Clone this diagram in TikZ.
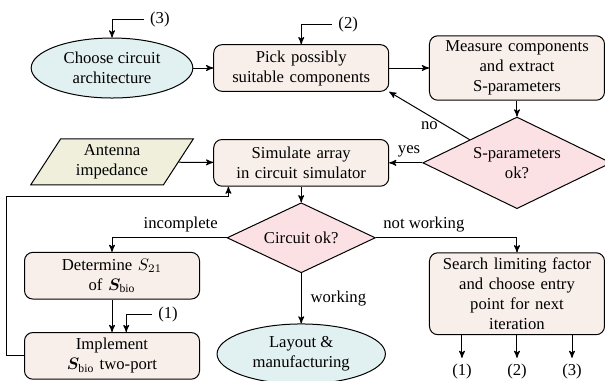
\documentclass[tikz,border=0pt]{standalone}
\usepackage{fontspec}
\setmainfont{Liberation Serif}
\usepackage{amsmath,bm}
\usepackage{xcolor}
\usetikzlibrary{positioning,shapes,calc,arrows}

\definecolor{termcol}{HTML}{E1F0F0}
\definecolor{boxcol}{HTML}{F8EFEA}
\definecolor{deccol}{HTML}{FCE1E4}
\definecolor{iocol}{HTML}{EFEFDC}

\begin{document}
\begin{tikzpicture}[->,>=stealth',auto,semithick,
            box/.style={rectangle,rounded corners=5pt,draw,fill=boxcol,text width=99pt,align=center,minimum height=28pt,inner sep=3pt},
            term/.style={ellipse,draw,fill=termcol,minimum width=97pt,minimum height=36pt,inner sep=0pt,align=center},
            decision/.style={diamond,draw,fill=deccol,aspect=2,inner sep=0pt,align=center},
            io/.style={trapezium,trapezium left angle=62,trapezium right angle=118,trapezium stretches=true,draw,fill=iocol,minimum width=98pt,minimum height=27.6pt,align=center}]

            \useasboundingbox (-2.362,1.434) rectangle (10.396,-6.600);

            \node[term] (choose) {Choose circuit\\architecture};
            \node[box] (pick) [right of=choose, node distance=3.99cm] {Pick possibly\\suitable components};
            \node[box] (measure) [right of=pick, node distance=4.55cm] {Measure components\\and extract\\S-parameters};
            \node[decision, minimum width=113pt, minimum height=55pt] (sok) [below of=measure, node distance=2cm] {S-parameters\\ok?};
            \node[box] (simulate) [below of=pick, node distance=2cm] {Simulate array\\in circuit simulator};
            \node[io] (antenna) [below of=choose, node distance=1.98cm] {Antenna\\impedance};
            \node[decision, minimum width=89pt, minimum height=42pt] (cok) [below of=simulate, node distance=1.58cm] {Circuit ok?};
            \node[box] (determine) [below of=antenna, node distance=2.4cm] {Determine $S_{21}$\\of $\bm{S}_{\mathrm{bio}}$};
            \node[box] (implement) [below of=determine, node distance=1.69cm] {Implement\\$\bm{S}_{\mathrm{bio}}$ two-port};
            \node[term, minimum width=101pt] (layout) [below of=cok, node distance=2.45cm] {Layout \&\\manufacturing};
            \node[box] (search) [below of=sok, node distance=2.76cm] {Search limiting factor\\and choose entry\\point for next\\iteration};

            % entry points
            \node (e3) at ([xshift=1.01cm,yshift=0.38cm]choose.north) {(3)};
            \node (e2) at ([xshift=0.99cm,yshift=0.42cm]pick.north) {(2)};
            \node (e1) at ([xshift=1.18cm,yshift=0.38cm]implement.north) {(1)};
            \tikzset{node distance=1.16cm}
            \node (o2) [below of=search, node distance=1.64cm] {(2)};
            \node (o1) [left of=o2] {(1)};
            \node (o3) [right of=o2] {(3)};

            \path (choose) edge (pick)
            (pick) edge (measure)
            (measure) edge (sok)
            (sok.north west) edge node[below] {no} (pick.south east)
            (sok) edge node[above,pos=0.4] {yes} (simulate)
            (antenna) edge (simulate)
            (simulate) edge (cok)
            (cok) edge node[right,xshift=2pt] {working} (layout)
            (determine) edge (implement);

            \draw (cok.west) -| node[above,pos=0.2] {incomplete} (determine.north);
            \draw (cok.east) -| node[above,pos=0.17] {not working} (search.north);
            \draw (implement.west) -- ++(-0.36,0) |- ([xshift=0.32cm,yshift=-0.21cm]simulate.south west) -- ([xshift=0.32cm]simulate.south west);

            \draw (e3.west) -| (choose.north);
            \draw (e2.west) -| (pick.north);
            \draw (e1.west) -| ([xshift=0.3cm]implement.north);
            \draw (search.south -| o1) -- (o1);
            \draw (search.south) -- (o2);
            \draw (search.south -| o3) -- (o3);
          \end{tikzpicture}
\end{document}
